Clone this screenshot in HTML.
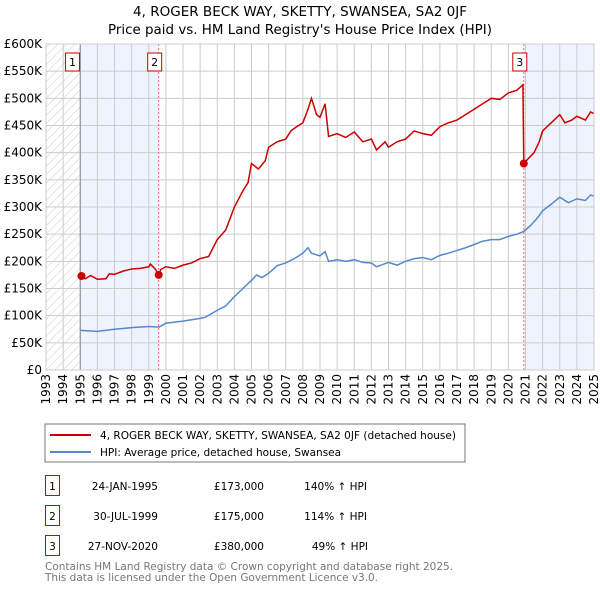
<!DOCTYPE html>
<html><head><meta charset="utf-8"><style>
body{margin:0;background:#fff;font-family:"DejaVu Sans","Liberation Sans",sans-serif;}
svg text{font-family:"DejaVu Sans","Liberation Sans",sans-serif;}
</style></head><body>
<svg id="c" width="600" height="590" xmlns="http://www.w3.org/2000/svg">
<defs><pattern id="hatch" width="6" height="6" patternUnits="userSpaceOnUse" patternTransform="rotate(45)"><line x1="0" y1="0" x2="0" y2="6" stroke="#ccc" stroke-width="1"/></pattern></defs>
<text x="300" y="16" text-anchor="middle" font-size="13" textLength="334" lengthAdjust="spacingAndGlyphs">4, ROGER BECK WAY, SKETTY, SWANSEA, SA2 0JF</text>
<text x="300" y="34" text-anchor="middle" font-size="13" textLength="384" lengthAdjust="spacingAndGlyphs">Price paid vs. HM Land Registry's House Price Index (HPI)</text>
<g id="plot"></g>
<rect x="45" y="424" width="420" height="38" fill="#fff" stroke="#777"/>
<line x1="50" y1="435" x2="91" y2="435" stroke="#cc0000" stroke-width="2"/>
<text x="100" y="439" font-size="10.5" textLength="356" lengthAdjust="spacingAndGlyphs">4, ROGER BECK WAY, SKETTY, SWANSEA, SA2 0JF (detached house)</text>
<line x1="50" y1="452" x2="91" y2="452" stroke="#5588cc" stroke-width="2"/>
<text x="100" y="456" font-size="10.5">HPI: Average price, detached house, Swansea</text>
<g font-size="10.5">
<rect x="45.5" y="475.5" width="14" height="20" fill="#fff" stroke="#cc0000"/><text x="52.5" y="490" text-anchor="middle">1</text>
<text x="158" y="490" text-anchor="end">24-JAN-1995</text><text x="264" y="490" text-anchor="end">£173,000</text><text x="367" y="490" text-anchor="end">140% ↑ HPI</text>
<rect x="45.5" y="505.5" width="14" height="20" fill="#fff" stroke="#cc0000"/><text x="52.5" y="520" text-anchor="middle">2</text>
<text x="158" y="520" text-anchor="end">30-JUL-1999</text><text x="264" y="520" text-anchor="end">£175,000</text><text x="367" y="520" text-anchor="end">114% ↑ HPI</text>
<rect x="45.5" y="535.5" width="14" height="20" fill="#fff" stroke="#cc0000"/><text x="52.5" y="550" text-anchor="middle">3</text>
<text x="158" y="550" text-anchor="end">27-NOV-2020</text><text x="264" y="550" text-anchor="end">£380,000</text><text x="368" y="550" text-anchor="end">49% ↑ HPI</text>
</g>
<text x="45" y="570" font-size="11" fill="#777" textLength="408" lengthAdjust="spacingAndGlyphs">Contains HM Land Registry data © Crown copyright and database right 2025.</text>
<text x="45" y="581" font-size="11" fill="#777" textLength="333" lengthAdjust="spacingAndGlyphs">This data is licensed under the Open Government Licence v3.0.</text>
</svg>
<script>
const yTicks=[0,50,100,150,200,250,300,350,400,450,500,550,600];
const yLabels=["£0","£50K","£100K","£150K","£200K","£250K","£300K","£350K","£400K","£450K","£500K","£550K","£600K"];
const years=[1993,1994,1995,1996,1997,1998,1999,2000,2001,2002,2003,2004,2005,2006,2007,2008,2009,2010,2011,2012,2013,2014,2015,2016,2017,2018,2019,2020,2021,2022,2023,2024,2025];
const hpiT=[1995,1996,1997,1998,1999,1999.6,2000,2001,2002,2002.3,2003,2003.5,2004,2004.5,2005,2005.3,2005.6,2006,2006.5,2007,2007.5,2008,2008.3,2008.5,2009,2009.3,2009.5,2010,2010.5,2011,2011.5,2012,2012.3,2013,2013.5,2014,2014.5,2015,2015.5,2016,2016.5,2017,2017.5,2018,2018.5,2019,2019.5,2020,2020.5,2020.9,2021.3,2021.7,2022,2022.5,2023,2023.5,2024,2024.5,2024.8,2025];
const hpiV=[73,71,75,78,80,79,86,90,95,97,110,118,135,150,165,175,170,178,192,197,205,215,225,215,210,218,200,203,200,203,198,197,190,198,193,200,205,207,203,211,215,220,225,231,237,240,240,246,250,255,266,280,293,305,318,308,315,312,322,320];
const priceT=[1995,1995.3,1995.6,1996,1996.5,1996.7,1997,1997.5,1998,1998.5,1999,1999.1,1999.4,1999.58,1999.7,2000,2000.5,2001,2001.5,2002,2002.5,2003,2003.5,2004,2004.5,2004.8,2005,2005.4,2005.8,2006,2006.5,2007,2007.3,2007.6,2008,2008.3,2008.5,2008.8,2009,2009.3,2009.5,2010,2010.5,2011,2011.5,2012,2012.3,2012.8,2013,2013.5,2014,2014.5,2015,2015.5,2016,2016.5,2017,2017.5,2018,2018.5,2019,2019.5,2020,2020.5,2020.85,2020.9,2021.1,2021.5,2021.8,2022,2022.5,2023,2023.3,2023.7,2024,2024.5,2024.8,2025];
const priceV=[173,168,174,167,168,177,176,182,186,187,190,195,185,175,185,190,187,193,197,205,209,240,258,300,330,345,380,370,385,410,420,425,440,447,455,480,500,470,465,490,430,435,428,438,420,425,405,420,410,420,425,440,435,432,448,455,460,470,480,490,500,498,510,515,525,380,387,400,420,440,455,470,455,460,467,460,475,472];
const saleT=[1995.07,1999.58,2020.9];
const saleV=[173,175,380];
const saleLbl=["1","2","3"];

const L=46,R=594,T=44,B=370;
const x=t=>L+(t-1993)*(R-L)/32;
const y=v=>B-v*(B-T)/600;
const NS="http://www.w3.org/2000/svg";
const g=document.getElementById('plot');
function mk(tag,a,p){const e=document.createElementNS(NS,tag);for(const k in a)e.setAttribute(k,a[k]);(p||g).appendChild(e);return e;}
let e;
e=mk('rect',{x:x(1993),y:T,width:x(1995)-x(1993),height:B-T,fill:'url(#hatch)'});


e=mk('rect',{x:x(1995),y:T,width:x(saleT[1])-x(1995),height:B-T,fill:'#eef3fd'});


e=mk('rect',{x:x(saleT[2]),y:T,width:x(2025)-x(saleT[2]),height:B-T,fill:'#eef3fd'});


yTicks.forEach((v,i)=>{
 e=mk('line',{x1:L,x2:R,y1:y(v),y2:y(v),stroke:'#ccc'});
 
 
 e=mk('text',{x:L-4,y:y(v)+4,'text-anchor':'end','font-size':12});
 e.textContent=yLabels[i];
 
 
});
years.forEach(yr=>{
 e=mk('line',{x1:x(yr),x2:x(yr),y1:T,y2:B,stroke:'#ccc'});
 
 
 e=mk('text',{x:0,y:0,'text-anchor':'end','font-size':12,transform:`translate(${x(yr)+4},${B+4}) rotate(-90)`});
 e.textContent=yr;
 
 
});
e=mk('line',{x1:x(1995),x2:x(1995),y1:T,y2:B,stroke:'#888'});


[1,2].forEach(i=>{
 e=mk('line',{x1:x(saleT[i]),x2:x(saleT[i]),y1:T,y2:B,stroke:'#ee6666','stroke-dasharray':'2,2'});
 
 
});
e=mk('polyline',{points:hpiT.map((t,i)=>x(t)+','+y(hpiV[i])).join(' '),fill:'none',stroke:'#5588cc','stroke-width':1.5});


e=mk('polyline',{points:priceT.map((t,i)=>x(t)+','+y(priceV[i])).join(' '),fill:'none',stroke:'#cc0000','stroke-width':1.5});


saleT.forEach((t,i)=>{
 e=mk('circle',{cx:x(t),cy:y(saleV[i]),r:4,fill:'#cc0000'});
 
 
 const bx=x(t)-(i==0?9:4)-7;
 e=mk('rect',{x:bx,y:53,width:14,height:18,fill:'#fff',stroke:'#cc0000'});
 
 
 e=mk('text',{x:bx+7,y:66,'text-anchor':'middle','font-size':11});
 e.textContent=saleLbl[i];
 
 
});
e=mk('rect',{x:L,y:T,width:R-L,height:B-T,fill:'none',stroke:'#ccc'});


</script>
</body></html>
